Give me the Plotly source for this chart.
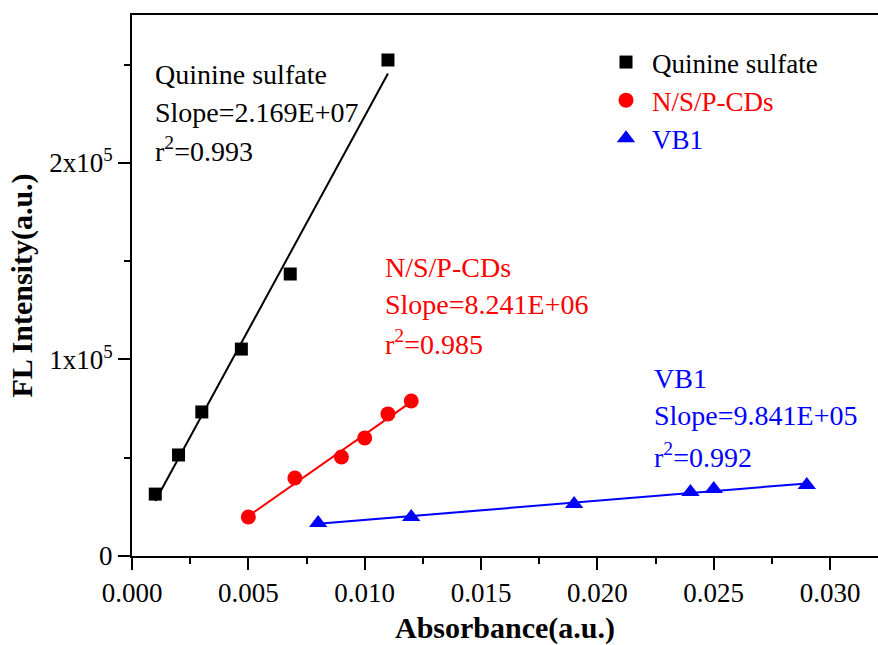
import numpy as np
import plotly.graph_objects as go

# ---- data ----
qs_x = [0.001, 0.002, 0.003, 0.0047, 0.0068, 0.011]
qs_y = [31500, 51400, 73300, 105300, 143500, 252400]
cd_x = [0.005, 0.007, 0.009, 0.010, 0.011, 0.012]
cd_y = [19850, 39700, 50400, 60050, 72300, 78900]
vb_x = [0.008, 0.012, 0.019, 0.024, 0.025, 0.029]
vb_y = [16800, 19850, 26500, 32600, 34100, 36100]

series_names = ["Quinine sulfate", "N/S/P-CDs", "VB1"]
slopes_txt = ["2.169E+07", "8.241E+06", "9.841E+05"]
r2_txt = ["0.993", "0.985", "0.992"]
x_tickvals = [0.000, 0.005, 0.010, 0.015, 0.020, 0.025, 0.030]
x_ticktext = ["0.000", "0.005", "0.010", "0.015", "0.020", "0.025", "0.030"]
y_tickvals = [0, 100000, 200000]
y_ticktext = ["0", "1x10<sup>5</sup>", "2x10<sup>5</sup>"]

colors = ["#000000", "#ff0000", "#0000ff"]
symbols = ["square", "circle", "triangle-up"]
msizes = [13, 15, 16]
FONT = "Liberation Serif"

W, H = 878, 645
L, R, T, B = 132, 0, 15, 89
pw, ph = W - L - R, H - T - B


def px(x):
    return (x - L) / pw


def py(y):
    return (H - B - y) / ph


fig = go.Figure()
datasets = [(qs_x, qs_y), (cd_x, cd_y), (vb_x, vb_y)]
for i, (xs, ys) in enumerate(datasets):
    xs_a = np.array(xs)
    k, b = np.polyfit(xs_a, np.array(ys), 1)
    lx = np.array([xs_a.min(), xs_a.max()])
    fig.add_trace(go.Scatter(x=lx, y=k * lx + b, mode="lines",
                             line=dict(color=colors[i], width=2),
                             showlegend=False, hoverinfo="skip"))
for i, (xs, ys) in enumerate(datasets):
    fig.add_trace(go.Scatter(
        x=xs, y=ys, mode="markers",
        name="<span style='color:%s'>%s</span>" % (colors[i], series_names[i]),
        marker=dict(symbol=symbols[i], size=msizes[i], color=colors[i], line=dict(width=0)),
    ))

# fit annotations (pixel positions of text blocks)
blocks = [(153, [75, 112, 149]), (383, [267, 304, 342]), (652, [378, 415, 455])]
for i, (lx, ys) in enumerate(blocks):
    lines = [series_names[i], "Slope=" + slopes_txt[i], "r<sup>2</sup>=" + r2_txt[i]]
    for txt, yy in zip(lines, ys):
        fig.add_annotation(x=px(lx), y=py(yy), xref="paper", yref="paper",
                           text=txt, showarrow=False, xanchor="left", yanchor="middle",
                           font=dict(family=FONT, size=28, color=colors[i]))

axis_common = dict(showline=True, linecolor="black", linewidth=2, ticks="outside",
                   ticklen=12, tickwidth=2, tickcolor="black", showgrid=False,
                   zeroline=False, tickfont=dict(family=FONT, size=27, color="black"))

fig.update_xaxes(range=[0, 0.03206], tickvals=x_tickvals, ticktext=x_ticktext,
                 mirror=True,
                 minor=dict(ticks="outside", ticklen=6, tickwidth=2, tickcolor="black",
                            dtick=0.0025, tick0=0),
                 title=dict(text="<b>Absorbance(a.u.)</b>",
                            font=dict(family=FONT, size=30, color="black"), standoff=18),
                 **axis_common)
fig.update_yaxes(range=[0, 275300], tickvals=y_tickvals, ticktext=y_ticktext,
                 minor=dict(ticks="outside", ticklen=6, tickwidth=2, tickcolor="black",
                            dtick=50000, tick0=0),
                 title=dict(text="<b>FL Intensity(a.u.)</b>",
                            font=dict(family=FONT, size=30, color="black"), standoff=8),
                 **axis_common)

fig.update_layout(
    width=W, height=H, margin=dict(l=L, r=R, t=T, b=B, autoexpand=False),
    plot_bgcolor="white", paper_bgcolor="white",
    legend=dict(x=px(600), y=py(38), xanchor="left", yanchor="top",
                font=dict(family=FONT, size=27, color="black"),
                bgcolor="rgba(0,0,0,0)", tracegroupgap=0, itemsizing="trace",
                itemwidth=42),
    font=dict(family=FONT),
)

fig.write_html("out.html")
